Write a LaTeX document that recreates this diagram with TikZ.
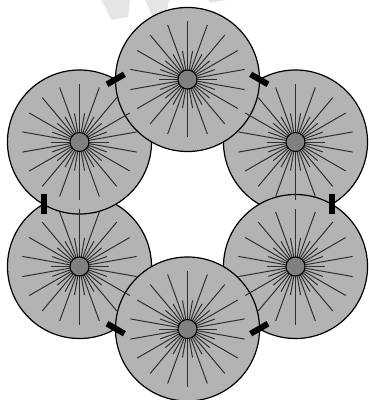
\documentclass[tikz,border=0pt]{standalone}
\usepackage{xcolor}
\usetikzlibrary{positioning}
\definecolor{discGray}{HTML}{B3B3B3}
\definecolor{hubGray}{HTML}{808080}
\definecolor{rayDark}{HTML}{2E2E2E}
\definecolor{markGray}{HTML}{E6E6E6}
\tikzset{
  disc/.style={circle, draw=black, line width=0.85pt, fill=discGray, minimum size=3.6cm, inner sep=0pt, outer sep=0pt},
  hub/.style={circle, draw=black, line width=0.75pt, fill=hubGray, minimum size=0.475cm, inner sep=0pt, outer sep=0pt},
  ray/.style={rayDark, line width=0.7pt},
  tick mark/.style={fill=black, minimum width=0.5cm, minimum height=0.15cm, inner sep=0pt, outer sep=0pt, rotate=#1},
  faint/.style={fill=markGray, draw=none},
}

\begin{document}
\begin{tikzpicture}[x=0.025cm,y=-0.025cm]
\useasboundingbox (0,0) rectangle (368,400);
% --- faint shapes behind the top disc
\fill[faint] (101,0) -- (111.7,20) -- (128.3,16.7) -- (130,0) -- cycle;
\fill[faint] (145,0) -- (153,18) -- (166,14) -- (169.3,0) -- cycle;
\fill[faint] (208,0) -- (210,3) -- (226.7,0) -- cycle;
% --- discs, lowest first
\foreach \name/\px/\py in {ll/79.5/266.5, ur/295.5/142, ul/79.5/142, lr/295.5/266.5, tp/187.5/79.5, bt/187.5/329}{
  \node[disc] (d\name) at (\px,\py) {};
}
% --- rays and hubs go over all discs
\foreach \name in {ll,ur,ul,lr,tp,bt}{
  \foreach \a in {0,20,...,340}{
    \draw[ray] (d\name.center) -- ++(\a:29);
    \draw[ray] (d\name.center) -- ++(\a+10:58);
  }
  \node[hub] (h\name) at (d\name.center) {};
}
% --- ticks
\node[tick mark=90] (t1) at (44,204) {};
\node[tick mark=90] (t2) at (332,204) {};
\node[tick mark=30] (t3) at (115.7,79.3) {};
\node[tick mark=-30] (t4) at (259.3,79.3) {};
\node[tick mark=-30] (t5) at (115.7,328.7) {};
\node[tick mark=30] (t6) at (259.3,328.7) {};
\end{tikzpicture}
\end{document}
